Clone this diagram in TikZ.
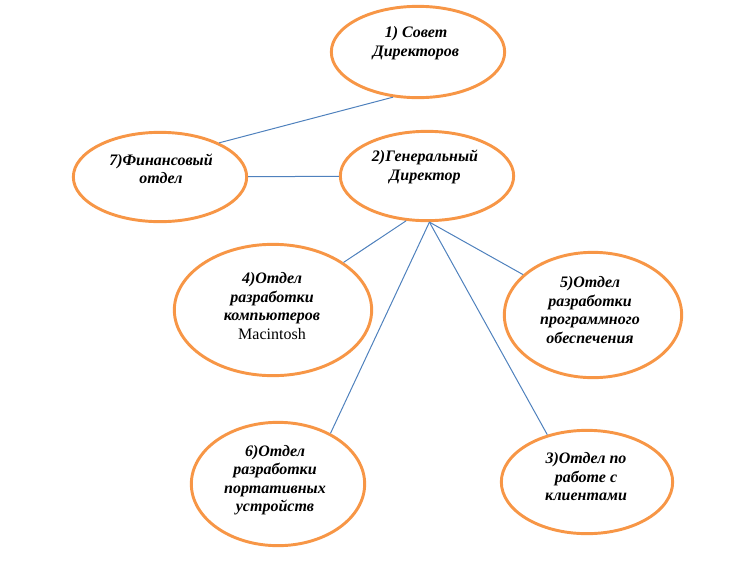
\documentclass[tikz,border=0pt]{standalone}
\usepackage{fontspec}
\setmainfont{Liberation Serif}
\usetikzlibrary{shapes.geometric}
\usepackage{xcolor}

\definecolor{ovalorange}{RGB}{247,150,70}
\definecolor{linkblue}{RGB}{79,129,189}

\tikzset{
  oval/.style={ellipse, draw=ovalorange, line width=2.2pt, inner sep=0pt},
  ovaltext/.style={align=center, font=\fontsize{12}{13.9}\selectfont\bfseries\itshape},
  link/.style={linkblue, line width=0.75pt}
}

\begin{document}
\begin{tikzpicture}[x=0.75pt, y=-0.75pt]

\useasboundingbox (0,0) rectangle (743,565);

% ovals
{
\node[oval, minimum width=130pt, minimum height=68.5pt] (board) at (418,52) {};
\node[oval, minimum width=130pt, minimum height=67pt] (fin) at (160,177) {};
\node[oval, minimum width=130pt, minimum height=67pt] (gd) at (427,176) {};
\node[oval, minimum width=148pt, minimum height=98.5pt] (mac) at (273,310) {};
\node[oval, minimum width=133pt, minimum height=94pt] (soft) at (593,315) {};
\node[oval, minimum width=130pt, minimum height=92.5pt] (mobile) at (278,484) {};
\node[oval, minimum width=128.5pt, minimum height=77.5pt] (clients) at (587,482) {};
}

% texts
{
\node[ovaltext] (boardtext) at (416,43) {1) Совет\\Директоров};
\node[ovaltext] (fintext) at (161,169) {7)Финансовый\\отдел};
\node[ovaltext] (gdtext) at (425,167) {2)Генеральный\\Директор};
\node[ovaltext] (mactext) at (272,306) {4)Отдел\\разработки\\компьютеров\\{\normalfont Macintosh}};
\node[ovaltext] (softtext) at (590,310) {5)Отдел\\разработки\\программного\\обеспечения};
\node[ovaltext] (mobiletext) at (275,480) {6)Отдел\\разработки\\портативных\\устройств};
\node[ovaltext] (clientstext) at (586,477) {3)Отдел по\\работе с\\клиентами};
}

% links
{
\draw[link] (board.241) -- (fin.30);
\draw[link] (fin) -- (gd);
\draw[link] (gd.245) -- (mac.34);
\draw[link] (gd.273) -- (mobile.44);
\draw[link] (gd.273) -- (soft.150);
\draw[link] (gd.273) -- (clients.130);
}

\end{tikzpicture}
\end{document}
